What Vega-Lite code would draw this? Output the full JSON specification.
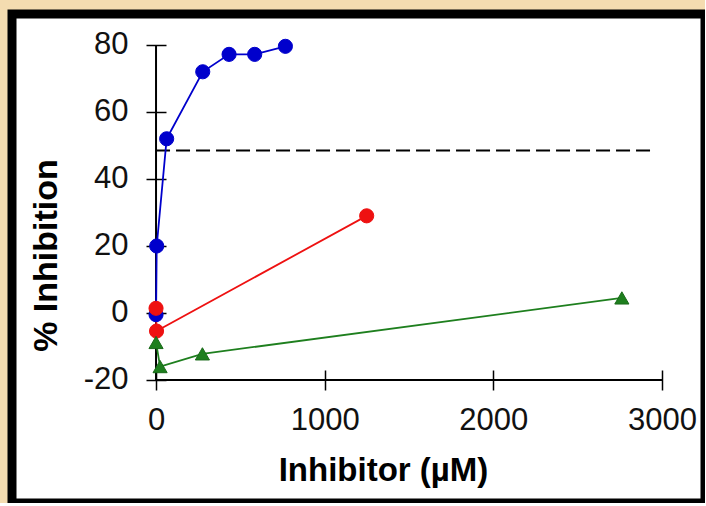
{
  "$schema": "https://vega.github.io/schema/vega-lite/v6.json",
  "autosize": "none",
  "padding": {"left": 12, "top": 14, "right": 0, "bottom": 0},
  "width": 693,
  "height": 489,
  "background": "#F4DCB0",
  "config": {
    "view": {"fill": "white", "stroke": "black", "strokeWidth": 9},
    "font": "Liberation Sans"
  },
  "datasets": {
    "axislines": [
      {"x": 0, "y": -20, "x2": 0, "y2": 80},
      {"x": 0, "y": -20, "x2": 3000, "y2": -20}
    ],
    "halfline": [
      {"x": 0, "y": 48.5, "x2": 2950, "y2": 48.5}
    ],
    "pts": [
      {"series": "A", "x": 0, "y": -0.5},
      {"series": "A", "x": 4, "y": 20},
      {"series": "A", "x": 63, "y": 52},
      {"series": "A", "x": 277, "y": 72},
      {"series": "A", "x": 433, "y": 77.2},
      {"series": "A", "x": 585, "y": 77.2},
      {"series": "A", "x": 767, "y": 79.6},
      {"series": "B", "x": 0, "y": 1.4},
      {"series": "B", "x": 3, "y": -5.4},
      {"series": "B", "x": 1249, "y": 29},
      {"series": "C", "x": 0, "y": -8.8},
      {"series": "C", "x": 24, "y": -16},
      {"series": "C", "x": 275, "y": -12.2},
      {"series": "C", "x": 2762, "y": 4.5}
    ]
  },
  "encoding": {
    "x": {
      "field": "x", "type": "quantitative",
      "scale": {"domain": [-854, 3255], "nice": false, "zero": false},
      "axis": {
        "values": [0, 1000, 2000, 3000],
        "labelExpr": "'' + datum.value",
        "offset": -133,
        "domain": false, "grid": false,
        "tickSize": 20, "tickColor": "black", "tickWidth": 1.5,
        "labelFont": "Liberation Sans", "labelFontSize": 31, "labelColor": "#111",
        "labelPadding": 15, "labelFlush": false, "labelOverlap": false,
        "title": "Inhibitor (µM)",
        "titleFont": "Liberation Sans", "titleFontSize": 33, "titleFontWeight": "bold", "titleColor": "black",
        "titleX": 371, "titleY": 110, "titleBaseline": "alphabetic", "titleAlign": "center"
      }
    },
    "y": {
      "field": "y", "type": "quantitative",
      "scale": {"domain": [-56.72, 89.25], "nice": false, "zero": false},
      "axis": {
        "values": [-20, 0, 20, 40, 60, 80],
        "labelExpr": "'' + datum.value",
        "offset": -154,
        "domain": false, "grid": false,
        "tickSize": 20, "tickColor": "black", "tickWidth": 1.5,
        "labelFont": "Liberation Sans", "labelFontSize": 31, "labelColor": "#111",
        "labelPadding": 18, "labelFlush": false, "labelOverlap": false,
        "title": "% Inhibition",
        "titleFont": "Liberation Sans", "titleFontSize": 34, "titleFontWeight": "bold", "titleColor": "black",
        "titleX": -110, "titleY": 241, "titleBaseline": "alphabetic", "titleAlign": "center", "titleAngle": -90
      }
    }
  },
  "layer": [
    {
      "data": {"name": "axislines"},
      "mark": {"type": "rule", "color": "black", "strokeWidth": 2},
      "encoding": {"x2": {"field": "x2"}, "y2": {"field": "y2"}}
    },
    {
      "data": {"name": "halfline"},
      "mark": {"type": "rule", "color": "black", "strokeWidth": 2, "strokeDash": [14, 6]},
      "encoding": {"x2": {"field": "x2"}, "y2": {"field": "y2"}}
    },
    {
      "data": {"name": "pts"},
      "mark": {"type": "line", "strokeWidth": 1.8},
      "encoding": {
        "order": {"field": "x", "type": "quantitative"},
        "color": {"field": "series", "type": "nominal", "legend": null,
          "scale": {"domain": ["A", "B", "C"], "range": ["#0000CC", "#EE1111", "#1E7F1E"]}}
      }
    },
    {
      "data": {"name": "pts"},
      "mark": {"type": "point", "filled": true, "opacity": 1, "strokeWidth": 1},
      "encoding": {
        "color": {"field": "series", "type": "nominal", "legend": null,
          "scale": {"domain": ["A", "B", "C"], "range": ["#0000CC", "#EE1111", "#2E962E"]}},
        "stroke": {"field": "series", "type": "nominal", "legend": null,
          "scale": {"domain": ["A", "B", "C"], "range": ["#0000CC", "#EE1111", "#1A6A1A"]}},
        "shape": {"field": "series", "type": "nominal", "legend": null,
          "scale": {"domain": ["A", "B", "C"], "range": ["circle", "circle", "triangle-up"]}},
        "size": {"field": "series", "type": "nominal", "legend": null,
          "scale": {"domain": ["A", "B", "C"], "range": [200, 200, 240]}}
      }
    }
  ]
}
